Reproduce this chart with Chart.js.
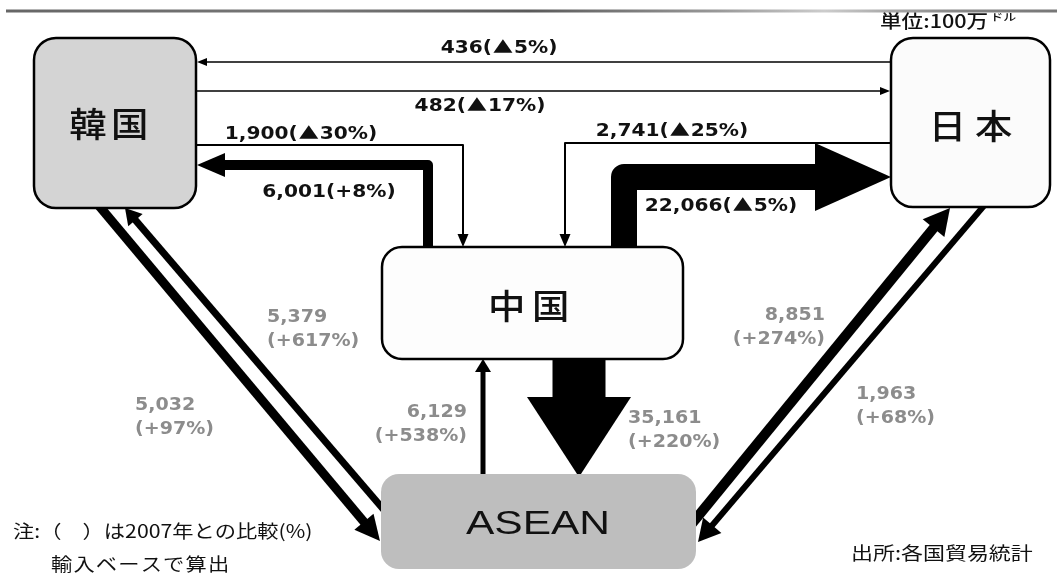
<!DOCTYPE html>
<html>
<head>
<meta charset="utf-8">
<script src="https://cdn.jsdelivr.net/npm/chart.js@4"></script>
<style>
  html, body { margin: 0; padding: 0; background: #fff; }
  canvas { display: block; }
</style>
</head>
<body>
<canvas id="flowChart" width="1057" height="574"></canvas>
<script>
const nodeNames = ['韓国', '日本', '中国', 'ASEAN'];

const flowFrom = ['日本', '韓国', '韓国', '中国', '日本', '中国', '中国', 'ASEAN', 'ASEAN', '韓国', 'ASEAN', '日本'];
const flowTo = ['韓国', '日本', '中国', '韓国', '中国', '日本', 'ASEAN', '中国', '韓国', 'ASEAN', '日本', 'ASEAN'];
const flowValues = [436, 482, 1900, 6001, 2741, 22066, 35161, 6129, 5379, 5032, 8851, 1963];
const flowChanges = ['▲5%', '▲17%', '▲30%', '+8%', '▲25%', '▲5%', '+220%', '+538%', '+617%', '+97%', '+274%', '+68%'];

const unitText = '単位:100万';
const unitSmall = 'ドル';
const noteLines = ['注:（　）は2007年との比較(%)', '輸入ベースで算出'];
const sourceText = '出所:各国貿易統計';

// drawing layout (positions in the 1057x574 axis space)
const nodeLayout = {
  '韓国': { x0: 34, y0: 38, x1: 196, y1: 208, r: 22, fill: '#d4d4d4', border: true, cx: 111, cy: 124, gap: 4 },
  '日本': { x0: 891, y0: 38, x1: 1050, y1: 207, r: 22, fill: '#fbfbfb', border: true, cx: 975, cy: 126, gap: 8 },
  '中国': { x0: 382, y0: 247, x1: 683, y1: 359, r: 20, fill: '#fdfdfd', border: true, cx: 532, cy: 306, gap: 6 },
  'ASEAN': { x0: 381, y0: 474, x1: 696, y1: 569, r: 18, fill: '#bebebe', border: false, cx: 538, cy: 525, gap: 0 }
};

const flowLayout = [
  { path: [[895, 62], [197, 62]], w: 1.6, hl: 10, hw: 8, label: 'inline', lx: 499, ly: 48 },
  { path: [[190, 91], [890, 91]], w: 1.6, hl: 10, hw: 8, label: 'inline', lx: 480, ly: 106 },
  { path: [[190, 145], [463, 145], [463, 247]], w: 2, hl: 13, hw: 11, label: 'inline', lx: 301, ly: 134 },
  { path: [[428, 255], [428, 165], [197, 165]], w: 10, hl: 28, hw: 24, label: 'inline', lx: 329, ly: 192 },
  { path: [[895, 143], [565, 143], [565, 247]], w: 2, hl: 13, hw: 11, label: 'inline', lx: 672, ly: 131 },
  { path: [[624, 255], [624, 177], [891, 177]], w: 26, hl: 76, hw: 68, label: 'inline', lx: 721, ly: 206 },
  { path: [[579, 352], [579, 477]], w: 53, hl: 80, hw: 104, label: 'left', lx: 628, ly: 419 },
  { path: [[483, 480], [483, 359]], w: 5, hl: 13, hw: 16, label: 'right', lx: 467, ly: 413 },
  { path: [[390, 517], [125, 208]], w: 7, hl: 16, hw: 19, label: 'left', lx: 267, ly: 318 },
  { path: [[95, 201], [380, 541]], w: 9, hl: 25, hw: 25, label: 'left', lx: 135, ly: 406 },
  { path: [[690, 526], [950, 208]], w: 10, hl: 26, hw: 28, label: 'right', lx: 825, ly: 316 },
  { path: [[988, 201], [698, 542]], w: 6, hl: 22, hw: 24, label: 'left', lx: 856, ly: 395 }
];

const cjk = '"Noto Sans CJK JP", sans-serif';

function fmt(v) {
  return v.toLocaleString('en-US');
}

function stretchText(ctx, text, px, py, font, color, sx, align, spacing) {
  ctx.save();
  ctx.font = font;
  ctx.fillStyle = color;
  ctx.textBaseline = 'middle';
  ctx.textAlign = align;
  ctx.letterSpacing = spacing || '0px';
  ctx.translate(px, py);
  ctx.scale(sx, 1);
  ctx.fillText(text, 0, 0);
  const w = ctx.measureText(text).width * sx;
  ctx.restore();
  return w;
}

// bold label, the ▲ drawn as a solid cap-height triangle, centred on px
function richText(ctx, text, px, py, font, color, sx) {
  const parts = text.split(/(▲)/).filter(s => s.length);
  ctx.save();
  ctx.font = font;
  ctx.textBaseline = 'middle';
  const m = ctx.measureText('0');
  const top = py - m.actualBoundingBoxAscent, bottom = py + m.actualBoundingBoxDescent;
  const triW = 19;
  const widths = parts.map(p => p === '▲' ? triW + 3 : ctx.measureText(p).width * sx);
  ctx.restore();
  let x = px - widths.reduce((a, b) => a + b, 0) / 2;
  parts.forEach((p, k) => {
    if (p === '▲') {
      ctx.save();
      ctx.fillStyle = color;
      ctx.beginPath();
      ctx.moveTo(x + 1.5, bottom);
      ctx.lineTo(x + 1.5 + triW, bottom);
      ctx.lineTo(x + 1.5 + triW / 2, top - 0.5);
      ctx.closePath();
      ctx.fill();
      ctx.restore();
    } else {
      stretchText(ctx, p, x, py, font, color, sx, 'left');
    }
    x += widths[k];
  });
}

function roundRect(ctx, x0, y0, x1, y1, r) {
  ctx.beginPath();
  ctx.moveTo(x0 + r, y0);
  ctx.arcTo(x1, y0, x1, y1, r);
  ctx.arcTo(x1, y1, x0, y1, r);
  ctx.arcTo(x0, y1, x0, y0, r);
  ctx.arcTo(x0, y0, x1, y0, r);
  ctx.closePath();
}

const diagramPlugin = {
  id: 'diagram',
  afterDraw(chart) {
    const ctx = chart.ctx;
    const xs = chart.scales.x;
    const ys = chart.scales.y;
    const X = v => xs.getPixelForValue(v);
    const Y = v => ys.getPixelForValue(v);

    // faded rule at the top
    const grad = ctx.createLinearGradient(X(0), 0, X(1057), 0);
    grad.addColorStop(0, '#666');
    grad.addColorStop(0.3, '#777');
    grad.addColorStop(0.5, '#5a5a5a');
    grad.addColorStop(0.68, '#999');
    grad.addColorStop(0.78, '#ccc');
    grad.addColorStop(0.9, '#888');
    grad.addColorStop(1, '#777');
    ctx.save();
    ctx.strokeStyle = grad;
    ctx.lineWidth = 3;
    ctx.beginPath();
    ctx.moveTo(X(6), Y(11));
    ctx.lineTo(X(1057), Y(11));
    ctx.stroke();
    ctx.restore();

    // arrows
    flowValues.forEach((v, i) => {
      const f = flowLayout[i];
      const pts = f.path.map(p => [X(p[0]), Y(p[1])]);
      const n = pts.length;
      const [tx, ty] = pts[n - 1];
      const [px, py] = pts[n - 2];
      const d = Math.hypot(tx - px, ty - py);
      const ux = (tx - px) / d, uy = (ty - py) / d;
      const bx = tx - ux * f.hl, by = ty - uy * f.hl;
      ctx.save();
      ctx.strokeStyle = '#000';
      ctx.fillStyle = '#000';
      ctx.lineWidth = f.w;
      ctx.lineJoin = 'round';
      ctx.lineCap = 'butt';
      ctx.beginPath();
      ctx.moveTo(pts[0][0], pts[0][1]);
      for (let k = 1; k < n - 1; k++) ctx.lineTo(pts[k][0], pts[k][1]);
      ctx.lineTo(bx + ux, by + uy);
      ctx.stroke();
      ctx.beginPath();
      ctx.moveTo(tx, ty);
      ctx.lineTo(bx - uy * f.hw / 2, by + ux * f.hw / 2);
      ctx.lineTo(bx + uy * f.hw / 2, by - ux * f.hw / 2);
      ctx.closePath();
      ctx.fill();
      ctx.restore();
    });

    // boxes
    nodeNames.forEach(name => {
      const b = nodeLayout[name];
      ctx.save();
      roundRect(ctx, X(b.x0), Y(b.y0), X(b.x1), Y(b.y1), b.r);
      ctx.fillStyle = b.fill;
      ctx.fill();
      if (b.border) {
        ctx.lineWidth = 2.5;
        ctx.strokeStyle = '#000';
        ctx.stroke();
      }
      ctx.restore();
      if (name === 'ASEAN') {
        stretchText(ctx, name, X(b.cx), Y(b.cy), '34px "Liberation Sans", Arial, sans-serif', '#111', 1.25, 'center');
      } else {
        stretchText(ctx, name, X(b.cx), Y(b.cy), '500 34px ' + cjk, '#111', 1.1, 'center', b.gap + 'px');
      }
    });

    // flow labels
    flowValues.forEach((v, i) => {
      const f = flowLayout[i];
      if (f.label === 'inline') {
        richText(ctx, fmt(v) + '(' + flowChanges[i] + ')', X(f.lx), Y(f.ly),
          'bold 18px "DejaVu Sans", sans-serif', '#111', 1.12);
      } else {
        const font = 'bold 17px "DejaVu Sans", sans-serif';
        stretchText(ctx, fmt(v), X(f.lx), Y(f.ly), font, '#8c8c8c', 1.12, f.label);
        stretchText(ctx, '(' + flowChanges[i] + ')', X(f.lx), Y(f.ly + 24), font, '#8c8c8c', 1.12, f.label);
      }
    });

    // unit, notes, source
    const uw = stretchText(ctx, unitText, X(880), Y(21), '500 18px ' + cjk, '#111', 1.2, 'left');
    stretchText(ctx, unitSmall, X(880) + uw + 2, Y(17), '500 10px ' + cjk, '#111', 1.3, 'left');
    stretchText(ctx, noteLines[0], X(13), Y(531), '18px ' + cjk, '#111', 1.18, 'left');
    stretchText(ctx, noteLines[1], X(51), Y(564), '18px ' + cjk, '#111', 1.18, 'left', '1px');
    stretchText(ctx, sourceText, X(851), Y(553), '18px ' + cjk, '#111', 1.22, 'left');
  }
};

new Chart(document.getElementById('flowChart'), {
  type: 'scatter',
  data: { datasets: [{ data: [] }] },
  options: {
    responsive: false,
    animation: false,
    devicePixelRatio: 1,
    layout: { padding: 0 },
    plugins: { legend: { display: false }, tooltip: { enabled: false } },
    scales: {
      x: { type: 'linear', min: 0, max: 1057, display: false },
      y: { type: 'linear', min: 0, max: 574, reverse: true, display: false }
    }
  },
  plugins: [diagramPlugin]
});
</script>
</body>
</html>
